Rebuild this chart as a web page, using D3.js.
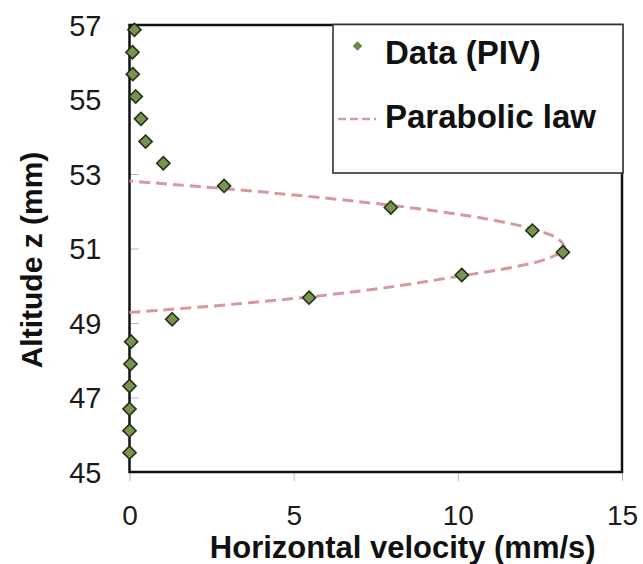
<!DOCTYPE html>
<html>
<head>
<meta charset="utf-8">
<script src="https://cdn.jsdelivr.net/npm/d3@7"></script>
<style>
  html, body { margin: 0; padding: 0; background: #fff; }
  svg { display: block; }
  text { font-family: Arial, "Liberation Sans", sans-serif; fill: #111; }
</style>
</head>
<body>
<svg id="chart" width="643" height="564"></svg>
<script>
// PIV measurements: altitude z (mm) and horizontal velocity (mm/s)
const altitude = [56.87, 56.27, 55.68, 55.08, 54.48, 53.87, 53.29, 52.68, 52.10, 51.48,
                  50.90, 50.29, 49.68, 49.10, 48.50, 47.90, 47.31, 46.69, 46.11, 45.52];
const velocity = [0.15, 0.09, 0.10, 0.19, 0.35, 0.49, 1.03, 2.88, 7.96, 12.27,
                  13.20, 10.12, 5.47, 1.30, 0.05, 0.03, 0.00, 0.00, 0.00, 0.00];

// Parabolic law profile, sampled along altitude
const lawAltitude = [49.28, 49.35, 49.50, 49.75, 50.00, 50.25, 50.50, 50.75, 51.00,
                     51.25, 51.50, 51.75, 52.00, 52.25, 52.50, 52.70, 52.76, 52.81];
const lawVelocity = [0.00, 1.03, 3.10, 6.00, 8.20, 10.00, 11.70, 12.80, 13.24,
                     13.07, 12.37, 11.14, 9.37, 7.07, 4.25, 1.60, 0.74, 0.00];

const xTicks = [0, 5, 10, 15];
const yTicks = [45, 47, 49, 51, 53, 55, 57];
const seriesNames = ["Data (PIV)", "Parabolic law"];

const svg = d3.select("#chart");
const plot = { left: 129.5, right: 622, top: 25, bottom: 472 };

const x = d3.scaleLinear().domain([0, 15]).range([plot.left, plot.right]);
const y = d3.scaleLinear().domain([45, 57]).range([plot.bottom, plot.top]);

// faint tick marks
const xAxis = d3.axisBottom(x).tickValues(xTicks).tickSize(9).tickFormat(d3.format("d"));
const gx = svg.append("g").attr("transform", `translate(0,${plot.bottom})`).call(xAxis);
gx.select(".domain").remove();
gx.selectAll(".tick line").attr("stroke", "#b8b8b8").attr("stroke-width", 1);
gx.selectAll(".tick text")
  .attr("y", 0).attr("dy", 0)
  .attr("transform", "translate(0,53)")
  .style("font-size", "28px").style("fill", "#1a1a1a");

const yAxis = d3.axisLeft(y).tickValues(yTicks).tickSize(-9).tickFormat(d3.format("d"));
const gy = svg.append("g").attr("transform", `translate(${plot.left},0)`).call(yAxis);
gy.select(".domain").remove();
gy.selectAll(".tick line").attr("stroke", "#aeb4c4").attr("stroke-width", 1);
gy.selectAll(".tick text")
  .attr("x", -28).attr("dy", "0.36em")
  .style("font-size", "29px").style("fill", "#1a1a1a");

// plot frame
svg.append("rect")
  .attr("x", plot.left).attr("y", plot.top)
  .attr("width", plot.right - plot.left).attr("height", plot.bottom - plot.top)
  .attr("fill", "none").attr("stroke", "#111").attr("stroke-width", 2.5);

// parabolic law (dashed)
const lawPts = lawAltitude.map((z, i) => [lawVelocity[i], z]);
svg.append("path")
  .datum(lawPts)
  .attr("fill", "none")
  .attr("stroke", "#d49a9c")
  .attr("stroke-width", 3)
  .attr("stroke-dasharray", "11,6")
  .attr("d", d3.line().x(d => x(d[0])).y(d => y(d[1])).curve(d3.curveCatmullRom.alpha(0.5)));

// data points (diamonds)
const diamond = d3.symbol().type(d3.symbolDiamond2).size(110);
svg.append("g").selectAll("path")
  .data(altitude.map((z, i) => [velocity[i], z]))
  .join("path")
  .attr("transform", d => `translate(${x(d[0])},${y(d[1])})`)
  .attr("d", diamond)
  .attr("fill", "#7a9450")
  .attr("stroke", "#23301a")
  .attr("stroke-width", 1.6);

// legend
const lg = svg.append("g");
lg.append("rect")
  .attr("x", 333).attr("y", 24.5).attr("width", 290).attr("height", 148.5)
  .attr("fill", "#fff").attr("stroke", "#333").attr("stroke-width", 1.6);
lg.append("path")
  .attr("transform", "translate(357.5,46)")
  .attr("d", d3.symbol().type(d3.symbolDiamond2).size(60))
  .attr("fill", "#6f8a48");
lg.append("line")
  .attr("x1", 338).attr("x2", 376).attr("y1", 119).attr("y2", 119)
  .attr("stroke", "#d49a9c").attr("stroke-width", 2.4).attr("stroke-dasharray", "8,4");
lg.selectAll("text.leg")
  .data(seriesNames)
  .join("text")
  .attr("class", "leg")
  .attr("x", 385)
  .attr("y", (d, i) => 64 + i * 64)
  .style("font-size", "33px").style("font-weight", "bold")
  .text(d => d);

// axis titles
svg.append("text")
  .attr("x", (plot.left + plot.right) / 2 + 27).attr("y", 558)
  .attr("text-anchor", "middle")
  .style("font-size", "31px").style("font-weight", "bold")
  .text("Horizontal velocity (mm/s)");

svg.append("text")
  .attr("transform", "translate(42,260) rotate(-90)")
  .attr("text-anchor", "middle")
  .style("font-size", "30px").style("font-weight", "bold")
  .text("Altitude z (mm)");
</script>
</body>
</html>
